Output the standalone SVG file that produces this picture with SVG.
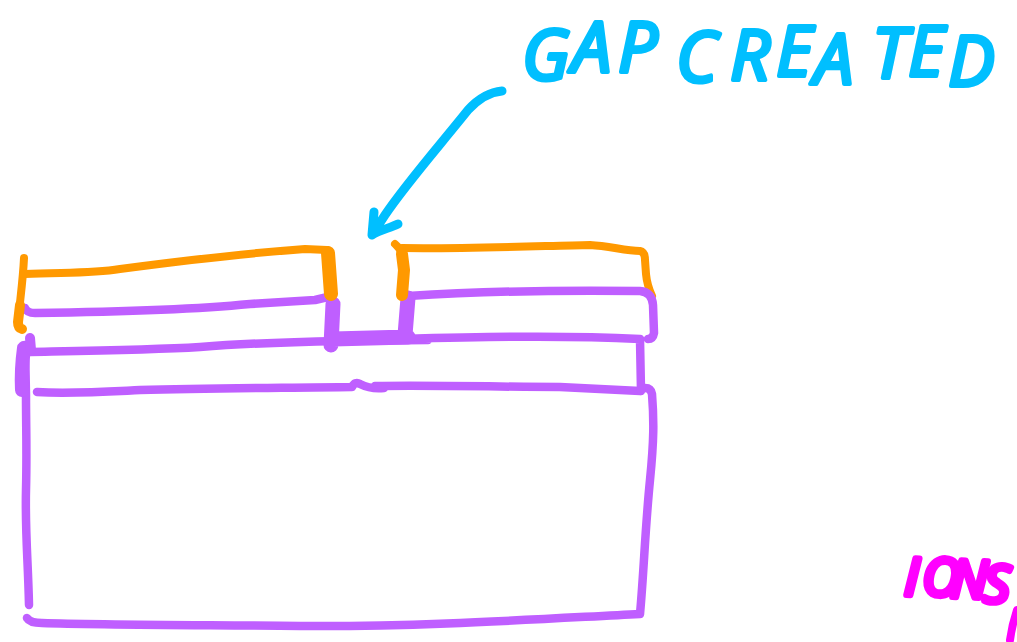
<svg xmlns="http://www.w3.org/2000/svg" width="1017" height="642" viewBox="0 0 1017 642">
<style>
.ink{fill:none;stroke-linecap:round;stroke-linejoin:round}
.p{stroke:#BF5FFF;stroke-width:8.5}
.o{stroke:#FF9900;stroke-width:8}
.c{stroke:#00BFFF;stroke-width:9}
.t{font-family:"Open Sans","Liberation Sans",sans-serif;font-style:italic;stroke-linejoin:round}
</style>
<rect width="1017" height="642" fill="#fff"/>
<g class="ink">
<path class="o" d="M402 248C460 249 540 246 590 245C610 246 625 251 640 251Q645 252 645 260L646 274Q647 285 652 296"/>
<path class="p" d="M29 605C28 560 25 530 26 490C27 450 26 430 26 395L25 345"/>
<path class="p" d="M27 618Q30 623 42 623C100 625 200 625 300 626C420 627 540 619 640 614C644 570 645 530 650 480C654 440 654 420 652 394Q651 388 645 388"/>
<path class="p" d="M37 392C70 394 100 392 140 390C210 388 280 388 352 387Q355 381 360 384C368 388 375 389 384 388M375 386C440 385 500 387 560 387L640 391"/>
<path class="p" d="M30 352C80 351 150 350 200 347C250 343 290 342 340 341L428 340M400 339C480 337 560 335 640 339L641 391"/>
<path class="p" d="M25 308Q27 313 35 313C110 312 190 310 250 304L315 300L332 296"/>
<path class="p" d="M408 296C470 292 560 290 640 291Q652 292 653 305L654 333Q653 339 648 339"/>
<path class="p" style="stroke-width:15" d="M333 304L331 345M408 298L405 335M333 339L408 337"/>
<path class="p" style="stroke-width:14" d="M24 348Q21 370 22 390"/>
<path class="p" style="stroke-width:10" d="M30 338L31 350"/>
<path class="o" d="M24 258C23 280 20 300 18 322"/>
<path class="o" style="stroke-width:10" d="M20 305L18 322Q18 328 22 329"/>
<path class="o" d="M25 274C60 272 90 274 120 269C180 261 250 253 305 249L327 250"/>
<path class="o" style="stroke-width:14" d="M328 253L331 294"/>
<path class="o" d="M395 244Q400 248 402 255"/>
<path class="o" style="stroke-width:12" d="M402 254L404 270L402 295"/>
<path class="c" d="M502 91C490 92 480 97 468 110C440 145 405 185 385 215L372 235L374 212M372 235C380 230 390 228 398 224"/>
<path d="M1017 610Q1012 625 1010 640" fill="none" stroke="#FF00FF" stroke-width="8" stroke-linecap="round"/>
</g>
<text class="t" font-size="70" fill="#00BFFF" stroke="#00BFFF" stroke-width="4" x="522 572 618 660 676 730 776 814 872 908 948" y="80 72 72 72 82 80 76 84 78 76 86">GAP CREATED</text>
<text class="t" font-size="52" fill="#FF00FF" stroke="#FF00FF" stroke-width="6" x="904 922 950 983" y="595 595 597 602" rotate="2 2 2 2">IONS</text>
</svg>
